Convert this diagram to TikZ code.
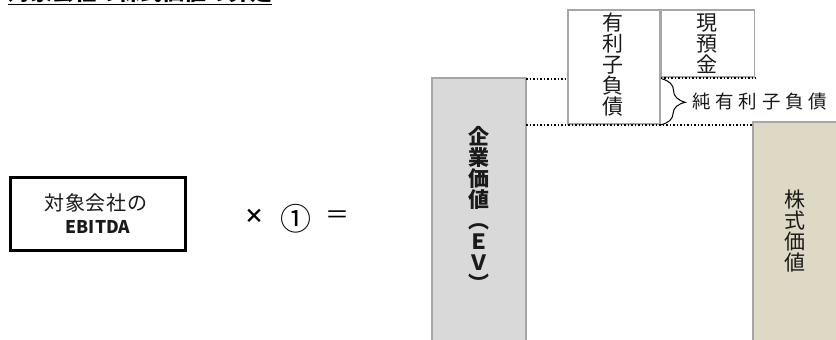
\documentclass[tikz,border=0pt]{standalone}
\usepackage{fontspec}
\setmainfont{Noto Sans CJK JP}
\newfontfamily\spacedA{Noto Sans CJK JP}[LetterSpace=4]
\newfontfamily\spacedB{Noto Sans CJK JP}[LetterSpace=26]
\usetikzlibrary{decorations.pathreplacing}
\definecolor{evgray}{HTML}{D9D9D9}
\definecolor{tan}{HTML}{DDD9C4}
\definecolor{edgegray}{HTML}{A6A6A6}
\definecolor{txt}{HTML}{1A1A1A}
\tikzset{
  vbox/.style={draw=edgegray, line width=1.6pt},
  vtext/.style={inner sep=0pt, align=center, text=txt, font=\fontsize{21}{21}\selectfont},
  dotline/.style={dotted, line width=1.5pt, black},
}
\begin{document}
\begin{tikzpicture}[x=1pt,y=-1pt]
\useasboundingbox (0,0) rectangle (836,340);
% title
\node[anchor=base west, inner sep=0pt, font=\fontsize{22}{22}\selectfont\bfseries] (title) at (8,0.5) {対象会社の株式価値の算定};
\draw[line width=1.4pt] (title.base west |- 0,4.5) coordinate (ul1) -- (ul1 -| title.base east);
% EBITDA box
\node[draw=black, line width=3pt, minimum width=175pt, minimum height=73pt, inner sep=0pt] (ebitda) at (97.5,213.5) {};
\node[inner sep=0pt, text=txt, font=\fontsize{20}{20}\selectfont\spacedA, anchor=base] (lab1) at (96,210) {対象会社の};
\node[inner sep=0pt, text=txt, font=\fontsize{17.5}{17.5}\selectfont\bfseries, anchor=base] (lab2) at (98,233) {EBITDA};
% operators
\node[inner sep=0pt, font=\fontsize{20}{20}\selectfont\bfseries, anchor=center] (times) at (254,216) {×};
\node[inner sep=0pt, font=\fontsize{31}{31}\selectfont, anchor=center] (one) at (296,219) {①};
\node[inner sep=0pt, font=\fontsize{24}{24}\selectfont, anchor=center] (eq) at (337,217) {＝};
% EV bar
\path[vbox, fill=evgray] (432,345) -- (432,78) -- (526,78) -- (526,345);
\node[vtext, font=\fontsize{21}{21}\selectfont\bfseries, anchor=north] (evt) at (479,126) {企\\業\\価\\値\\︵\\Ｅ\\Ｖ\\︶};
% debt / cash boxes
\node[vbox, fill=white, minimum width=92pt, minimum height=114pt, inner sep=0pt] (debt) at (614,67) {};
\node[vbox, fill=white, minimum width=93pt, minimum height=67pt, inner sep=0pt, anchor=north west] (cash) at (debt.north east) {};
\node[vtext] (debtt) at (613,65) {有\\利\\子\\負\\債};
\node[vtext] (casht) at (707,43.5) {現\\預\\金};
% equity bar
\fill[tan] (753,122) rectangle (840,345);
\draw[draw=edgegray, line width=1.6pt] (753,345) -- (753,122) -- (840,122);
% dotted lines
\coordinate (evtr) at (526,79);
\coordinate (evmr) at (526,125);
\draw[dotline] (evtr) -- (evtr -| debt.west);
\draw[dotline] (evmr) -- (753,125);
\draw[dotline] (cash.south west) -- (cash.south east);
% brace
\draw[line width=1pt, decorate, decoration={brace, amplitude=24pt, aspect=0.5}] (cash.south west) ++(1,1) coordinate (b1) -- (debt.south east) coordinate (b2);
\node[inner sep=0pt, anchor=west, text=txt, font=\fontsize{18.5}{18.5}\selectfont\spacedB] (net) at (692,102) {純有利子負債};
% equity text
\node[vtext] (eqt) at (795,231) {株\\式\\価\\値};
\end{tikzpicture}
\end{document}
